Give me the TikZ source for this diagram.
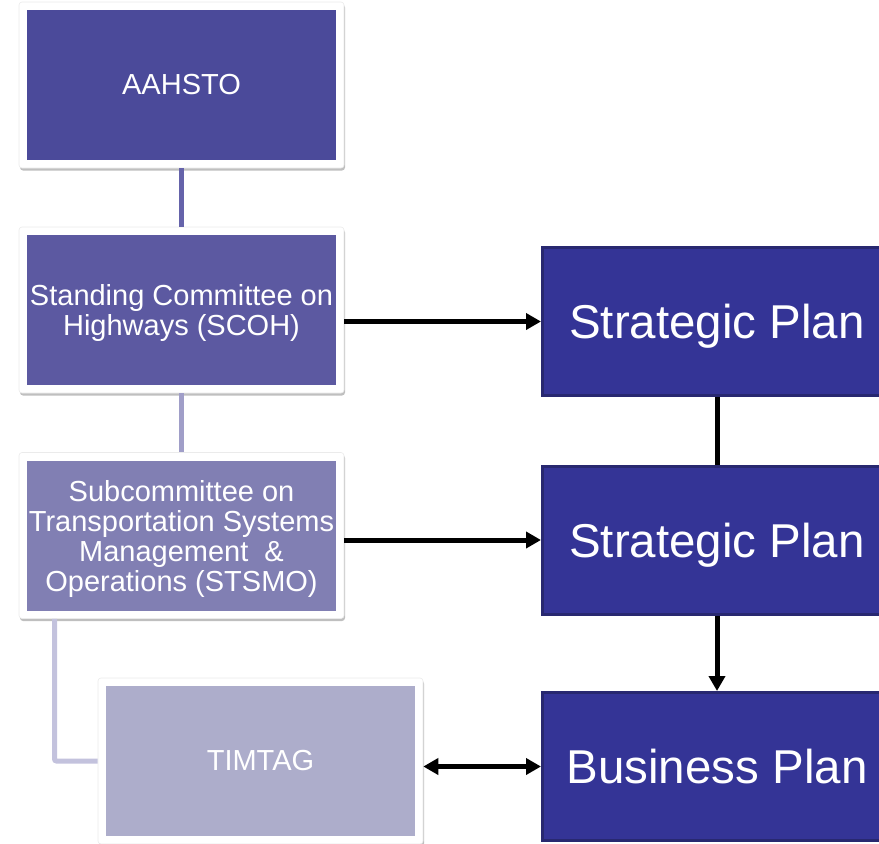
\documentclass[tikz,border=0pt]{standalone}
\usepackage{fontspec}
\setmainfont{Liberation Sans}
\usetikzlibrary{
  arrows.meta,
  shadows
}
\definecolor{aahstofill}{RGB}{75,74,154}
\definecolor{scohfill}{RGB}{92,89,161}
\definecolor{stsmofill}{RGB}{129,127,179}
\definecolor{timtagfill}{RGB}{173,173,203}
\definecolor{linkone}{RGB}{101,99,170}
\definecolor{linktwo}{RGB}{160,158,200}
\definecolor{linkthree}{RGB}{195,194,221}
\definecolor{planfill}{RGB}{52,52,150}
\definecolor{planedge}{RGB}{40,40,112}

\begin{document}
\begin{tikzpicture}[x=1pt,y=-1pt,
      frame/.style={
         rectangle,
         rounded corners=3pt,
         fill=white,
         draw=black!8,
         line width=0.6pt,
         inner sep=0pt,
         minimum width=325pt,
         minimum height=166pt,
         drop shadow={shadow xshift=1pt,shadow yshift=-2.5pt,opacity=0.25,fill=black}
      },
      unit/.style={
         rectangle,
         inner sep=0pt,
         minimum width=309pt,
         minimum height=150pt,
         text=white,
         align=center,
         font=\fontsize{29}{30}\selectfont
      },
      plan/.style={
         rectangle,
         inner sep=0pt,
         minimum width=349pt,
         minimum height=148pt,
         text depth=0pt,
         fill=planfill,
         draw=planedge,
         line width=3pt,
         text=white,
         font=\fontsize{47.5}{50}\selectfont
      },
      link/.style={line width=5pt},
      tip/.style={line width=5pt,-{Triangle[length=15pt,width=16pt]}},
      both tip/.style={line width=5pt,{Triangle[length=15pt,width=16pt]}-{Triangle[length=15pt,width=16pt]}}
    ]
    \useasboundingbox (0,0) rectangle (879,844);
    % left column
    \node (aahsto) [frame] at (181.5,85) {};
    \node (aahsto-in) [unit, fill=aahstofill] at (aahsto) {AAHSTO};
    \node (scoh) [frame] at (181.5,310) {};
    \node (scoh-in) [unit, fill=scohfill, text depth=0pt] at (scoh) {Standing Committee on\\Highways (SCOH)};
    \node (stsmo) [frame] at (181.5,535.5) {};
    \node (stsmo-in) [unit, fill=stsmofill, text depth=0pt] at (stsmo) {Subcommittee on\\Transportation Systems\\Management~ \&\\Operations (STSMO)};
    \node (timtag) [frame] at (260.5,761) {};
    \node (timtag-in) [unit, fill=timtagfill] at (timtag) {TIMTAG};
    % right column
    \node (sp1) [plan] at (717,321.5) {Strategic Plan};
    \node (sp2) [plan] at (717,540) {Strategic Plan};
    \node (bp) [plan] at (717,766.5) {Business Plan};
    \coordinate (bend) at (54.5,761);

    \draw[link, linkone] (aahsto.south) -- (scoh.north);
    \draw[link, linktwo] (scoh.south) -- (stsmo.north);
    \draw[link, linkthree, rounded corners=2pt] (stsmo.south -| bend) -- (bend) -- (timtag.west);
    \draw[tip] (scoh.east |- sp1) -- (sp1.west);
    \draw[tip] (stsmo.east |- sp2) -- (sp2.west);
    \draw[line width=5pt] (sp1.south) -- (sp2.north);
    \draw[tip] (sp2.south) -- (bp.north);
    \draw[both tip] (timtag.east |- bp) -- (bp.west);
\end{tikzpicture}
\end{document}
